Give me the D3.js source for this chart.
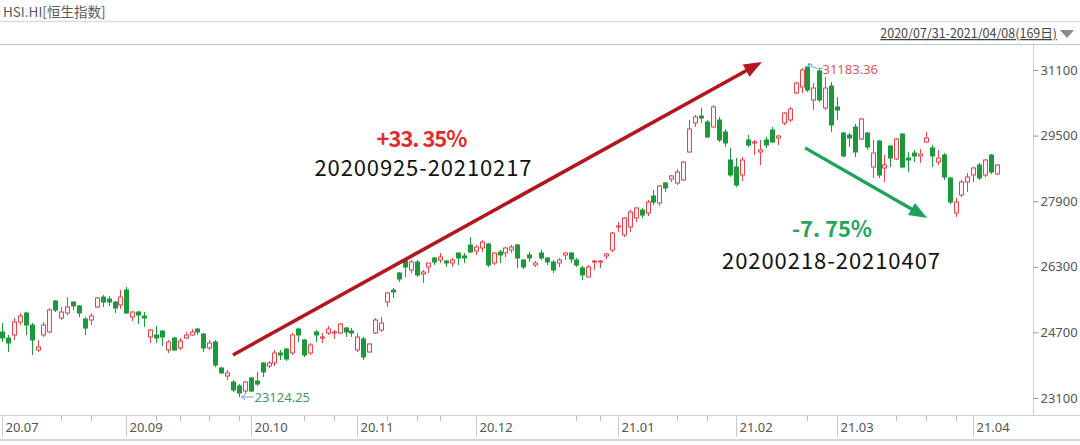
<!DOCTYPE html>
<html><head><meta charset="utf-8">
<script src="https://cdn.jsdelivr.net/npm/d3@7"></script>
<style>
body{margin:0;background:#fff;}
svg{display:block;font-family:"Noto Sans CJK SC","Noto Sans",sans-serif;}
</style>
</head><body>
<svg id="c" width="1080" height="445"></svg>
<script>
// ---------- DATA ----------
const dates = [
"2020-07-31",
"2020-08-03","2020-08-04","2020-08-05","2020-08-06","2020-08-07","2020-08-10","2020-08-11","2020-08-12","2020-08-13","2020-08-14",
"2020-08-17","2020-08-18","2020-08-19","2020-08-20","2020-08-21","2020-08-24","2020-08-25","2020-08-26","2020-08-27","2020-08-28","2020-08-31",
"2020-09-01","2020-09-02","2020-09-03","2020-09-04","2020-09-07","2020-09-08","2020-09-09","2020-09-10","2020-09-11","2020-09-14",
"2020-09-15","2020-09-16","2020-09-17","2020-09-18","2020-09-21","2020-09-22","2020-09-23","2020-09-24","2020-09-25","2020-09-28","2020-09-29","2020-09-30",
"2020-10-05","2020-10-06","2020-10-07","2020-10-08","2020-10-09","2020-10-12","2020-10-13","2020-10-14","2020-10-15","2020-10-16",
"2020-10-19","2020-10-20","2020-10-21","2020-10-22","2020-10-23","2020-10-27","2020-10-28","2020-10-29","2020-10-30",
"2020-11-02","2020-11-03","2020-11-04","2020-11-05","2020-11-06","2020-11-09","2020-11-10","2020-11-11","2020-11-12","2020-11-13",
"2020-11-16","2020-11-17","2020-11-18","2020-11-19","2020-11-20","2020-11-23","2020-11-24","2020-11-25","2020-11-26","2020-11-27","2020-11-30",
"2020-12-01","2020-12-02","2020-12-03","2020-12-04","2020-12-07","2020-12-08","2020-12-09","2020-12-10","2020-12-11","2020-12-14",
"2020-12-15","2020-12-16","2020-12-17","2020-12-18","2020-12-21","2020-12-22","2020-12-23","2020-12-24","2020-12-28","2020-12-29","2020-12-30","2020-12-31",
"2021-01-04","2021-01-05","2021-01-06","2021-01-07","2021-01-08","2021-01-11","2021-01-12","2021-01-13","2021-01-14","2021-01-15",
"2021-01-18","2021-01-19","2021-01-20","2021-01-21","2021-01-22","2021-01-25","2021-01-26","2021-01-27","2021-01-28","2021-01-29",
"2021-02-01","2021-02-02","2021-02-03","2021-02-04","2021-02-05","2021-02-08","2021-02-09","2021-02-10","2021-02-11","2021-02-16",
"2021-02-17","2021-02-18","2021-02-19","2021-02-22","2021-02-23","2021-02-24","2021-02-25","2021-02-26",
"2021-03-01","2021-03-02","2021-03-03","2021-03-04","2021-03-05","2021-03-08","2021-03-09","2021-03-10","2021-03-11","2021-03-12",
"2021-03-15","2021-03-16","2021-03-17","2021-03-18","2021-03-19","2021-03-22","2021-03-23","2021-03-24","2021-03-25","2021-03-26",
"2021-03-29","2021-03-30","2021-03-31",
"2021-04-01","2021-04-07"
];

const openVals = [
24710,24564,24637,24953,25173,24880,24271,24637,24710,25466,
25051,25173,25441,25344,25027,25002,25319,25563,25514,25441,
25368,25734,25075,25197,25100,24588,24637,24734,24271,24564,
24320,24564,24637,24783,24661,24320,24466,23832,23637,23490,
23393,23270,23588,23514,23954,23880,23954,24198,24295,24198,
24783,24515,24198,24710,24564,24685,24685,24685,24807,24734,
24271,24539,24222,24685,24759,25441,25734,26149,26441,26222,
26417,26124,26295,26515,26466,26441,26393,26637,26564,26832,
26685,26759,26856,26393,26661,26637,26710,26832,26466,26588,
26344,26637,26515,26417,26393,26588,26637,26466,26271,26051,
26417,26417,26564,26710,27271,27076,27271,27490,27685,27612,
28027,27856,28344,28441,28344,28417,29100,29807,29978,29832,
29710,29880,29588,28905,28734,28539,29393,29320,29100,29393,
29637,29441,29807,29880,30539,30685,31173,30368,31076,30173,
30710,30198,29563,29514,29710,29417,29563,28734,29368,28710,
29246,28929,29539,28954,29075,29002,29344,29198,28856,29027,
28466,27612,28051,28368,28539,28783,28539,29027,28563
];
const highVals = [
24929,24637,25051,25173,25197,24929,24515,24953,25295,25490,
25319,25563,25460,25368,25075,25173,25563,25612,25588,25460,
25734,25807,25222,25222,25197,24780,24856,24759,24515,24588,
24564,24710,24783,24800,24685,24515,24515,23856,23783,23539,
23441,23514,23612,23734,23978,24003,24271,24271,24320,24685,
24807,24539,24441,24759,24685,24856,24759,24929,24832,24807,
24685,24588,24441,25051,25075,25685,25783,26173,26466,26466,
26466,26222,26393,26539,26637,26466,26515,26637,26637,27027,
26832,26954,26880,26661,26710,26783,26832,26856,26490,26661,
26441,26710,26539,26466,26515,26661,26660,26515,26320,26344,
26466,26466,26637,27149,27393,27515,27685,27759,27734,27929,
28173,28295,28368,28539,28685,28880,29880,30003,30173,29880,
30246,29954,29661,29198,28954,28978,29514,29393,29393,29466,
29710,29514,30076,30198,30807,31149,31183.36,30783,31124,30929,
30807,30442,29588,29563,29783,29929,29588,29393,29393,29027,
29270,29441,29563,29100,29149,29173,29588,29270,29149,29075,
28490,27978,28417,28588,28734,28832,28929,29051,28807
];
const lowVals = [
24466,24222,24515,24880,24637,24149,24222,24588,24685,25197,
25002,25124,25246,25075,24637,24880,25295,25319,25344,25173,
25270,25150,24978,24905,24832,24441,24441,24368,24198,24250,
24271,24539,24620,24637,24222,24271,23856,23685,23539,23246,
23124.25,23197,23246,23393,23612,23832,23880,24027,24003,24149,
24466,24100,24149,24466,24441,24637,24539,24661,24588,24588,
24222,24027,24198,24661,24710,25319,25539,25929,26051,26149,
26051,25905,26149,26344,26393,26295,26295,26344,26393,26637,
26588,26661,26295,26344,26393,26539,26637,26271,26246,26417,
26295,26466,26344,26149,26295,26466,26393,26295,25978,26040,
26222,26271,26490,26661,27149,27027,27149,27393,27490,27539,
27807,27783,28124,28368,28295,28393,29080,29710,29807,29441,
29690,29344,29222,28490,28246,28393,29222,29027,28783,29198,
29320,29270,29759,29832,30515,30539,30564,30124,30320,30124,
29588,29880,28978,29222,28978,29393,29149,28466,28466,28368,
28734,28905,28710,28612,28856,28832,29319,28734,28783,28417,
27832,27515,28003,28124,28368,28417,28490,28563,28539
];
const closeVals = [
24564,24442,24953,25100,24880,24515,24344,24880,25246,25246,
25197,25319,25344,25173,24807,25100,25539,25441,25441,25295,
25563,25173,25197,25124,25051,24759,24564,24588,24466,24271,
24490,24637,24710,24710,24320,24441,23905,23710,23710,23295,
23222,23490,23270,23441,23734,23954,24198,24149,24051,24637,
24637,24149,24393,24637,24588,24783,24710,24905,24710,24685,
24588,24100,24417,25002,24929,25661,25685,26003,26295,26417,
26100,26173,26393,26417,26539,26393,26466,26515,26515,26661,
26783,26905,26344,26637,26588,26759,26783,26515,26295,26515,
26393,26515,26417,26222,26466,26637,26490,26344,26100,26295,
26441,26441,26613,27124,27295,27490,27637,27734,27563,27880,
27880,28271,28222,28515,28612,28856,29661,29954,29929,29466,
30198,29393,29320,28539,28295,28905,29270,29344,29149,29270,
29344,29490,30051,30149,30783,31100,30612,30661,30368,30661,
29758,30124,29002,29441,29100,29905,29222,29075,28539,28783,
28954,29417,28734,28905,29002,29051,29441,29002,28954,28490,
27880,27880,28368,28490,28710,28466,28905,28612,28783
];

const yTickValues = [23100, 24700, 26300, 27900, 29500, 31100];
const xTickLabels = ["20.07","20.09","20.10","20.11","20.12","21.01","21.02","21.03","21.04"];
const xTickDates  = ["2020-07-31","2020-08-31","2020-09-29","2020-10-28","2020-11-25","2020-12-30","2021-01-28","2021-02-24","2021-03-29"];
const minorTickDates = ["2020-08-14","2020-08-21","2020-09-07","2020-09-11","2020-09-18","2020-09-25","2020-10-14","2020-10-21",
  "2020-11-04","2020-11-11","2020-11-17","2020-12-18","2020-12-24","2021-01-14","2021-01-21","2021-02-17","2021-03-10","2021-03-17","2021-03-24"];

const titleText = "HSI.HI[恒生指数]";
const rangeText = "2020/07/31-2021/04/08(169日)";
const minLabel = {date: "2020-09-25", value: 23124.25, text: "23124.25"};
const maxLabel = {date: "2021-02-17", value: 31183.36, text: "31183.36"};
// annotation arrows: [candle index, index value]
const riseArrow = [[39.0, 24150], [128.3, 31295]];
const fallArrow = [[135.6, 29200], [156.2, 27490]];
const riseText = ["+33. 35%", "20200925-20210217"];
const fallText = ["-7. 75%", "20200218-20210407"];

// ---------- CHART ----------
const svg = d3.select("#c");
const N = dates.length;
const x = d3.scalePoint().domain(dates).range([2, 997]);
const xi = d3.scaleLinear().domain([0, N - 1]).range([2, 997]);
const y = d3.scaleLinear().domain([23100, 31100]).range([398, 70]);

const UP = "#e8424c", DOWN = "#1b9a3c";

// header
svg.append("text").attr("x", 3).attr("y", 17).attr("font-size", 13.5).attr("fill", "#5a5a5a").text(titleText);
svg.append("line").attr("x1", 0).attr("x2", 1080).attr("y1", 21.5).attr("y2", 21.5).attr("stroke", "#dcdcdc").attr("stroke-width", 1.5);
svg.append("text").attr("x", 1057).attr("y", 38).attr("text-anchor", "end").attr("font-size", 12.5)
  .attr("fill", "#444").attr("text-decoration", "underline").text(rangeText);
svg.append("path").attr("d", "M1060,30 L1074,30 L1067,38 Z").attr("fill", "#8a8a8a");
svg.append("line").attr("x1", 0).attr("x2", 1080).attr("y1", 44.5).attr("y2", 44.5).attr("stroke", "#b8c6c6").attr("stroke-width", 1.2);

// right axis
svg.append("line").attr("x1", 1033.5).attr("x2", 1033.5).attr("y1", 45).attr("y2", 415).attr("stroke", "#cfcfcf");
const yAxis = svg.append("g").attr("transform", "translate(1033.5,0)")
  .call(d3.axisRight(y).tickValues(yTickValues).tickSize(5).tickPadding(2).tickFormat(d3.format("d")));
yAxis.select(".domain").remove();
yAxis.selectAll(".tick line").attr("stroke", "#999");
yAxis.selectAll(".tick text").attr("font-size", 13).attr("fill", "#555").attr("font-family", "'Noto Sans','Open Sans',sans-serif");

// bottom axis
svg.append("line").attr("x1", 0).attr("x2", 1080).attr("y1", 415.5).attr("y2", 415.5).attr("stroke", "#d0d0d0");
svg.append("line").attr("x1", 0).attr("x2", 1080).attr("y1", 440).attr("y2", 440).attr("stroke", "#d6d6d6").attr("stroke-width", 2);
const px = d => Math.round(x(d)) + 0.5;
svg.append("g").selectAll("line").data(minorTickDates).join("line")
  .attr("x1", px).attr("x2", px).attr("y1", 416).attr("y2", 421).attr("stroke", "#bbb");
const xt = svg.append("g").selectAll("g").data(xTickDates).join("g")
  .attr("transform", d => `translate(${px(d)},0)`);
xt.append("line").attr("y1", 416).attr("y2", 437).attr("stroke", "#c8c8c8");
xt.append("text").attr("x", 3).attr("y", 432).attr("font-size", 13).attr("fill", "#555")
  .attr("font-family", "'Noto Sans','Open Sans',sans-serif")
  .text((d, i) => xTickLabels[i]);

// candles
const candles = dates.map((d, i) => ({d, o: openVals[i], h: highVals[i], l: lowVals[i], c: closeVals[i]}));
const cg = svg.append("g").selectAll("g").data(candles).join("g");
cg.append("line")
  .attr("x1", c => px(c.d)).attr("x2", c => px(c.d))
  .attr("y1", c => y(c.h)).attr("y2", c => y(c.l))
  .attr("stroke", c => c.c >= c.o ? UP : DOWN).attr("stroke-width", 1);
cg.append("rect")
  .attr("x", c => Math.round(x(c.d)) - 1.5)
  .attr("width", 4)
  .attr("y", c => y(Math.max(c.o, c.c)))
  .attr("height", c => Math.max(1, Math.abs(y(c.o) - y(c.c))))
  .attr("fill", c => c.c >= c.o ? "#fff4f4" : DOWN)
  .attr("stroke", c => c.c >= c.o ? UP : DOWN).attr("stroke-width", 1);

// min / max labels
{
  const mx = px(minLabel.date), my = y(minLabel.value);
  svg.append("path").attr("d", `M${mx + 14},${my} L${mx + 2},${my} M${mx + 6},${my - 3} L${mx + 2},${my} L${mx + 6},${my + 3}`)
    .attr("stroke", "#6b9fd0").attr("fill", "none").attr("stroke-width", 1);
  svg.append("text").attr("x", mx + 15).attr("y", my + 5).attr("font-size", 13).attr("fill", "#3f9a5f")
    .attr("font-family", "'Noto Sans','Open Sans',sans-serif").text(minLabel.text);
  const hx = px(maxLabel.date), hy = y(maxLabel.value);
  svg.append("path").attr("d", `M${hx + 1},${hy - 3} Q${hx + 4},${hy + 2} ${hx + 15},${hy + 2} M${hx + 1},${hy - 3} L${hx + 1},${hy + 1} M${hx + 1},${hy - 3} L${hx + 5},${hy - 2}`)
    .attr("stroke", "#6b9fd0").attr("fill", "none").attr("stroke-width", 1);
  svg.append("text").attr("x", hx + 15).attr("y", hy + 7).attr("font-size", 13).attr("fill", "#d9585c")
    .attr("font-family", "'Noto Sans','Open Sans',sans-serif").text(maxLabel.text);
}

// arrows
function arrow(pts, color, w, L, hw) {
  const [x0, y0] = [xi(pts[0][0]), y(pts[0][1])];
  const [x1, y1] = [xi(pts[1][0]), y(pts[1][1])];
  const dx = x1 - x0, dy = y1 - y0, len = Math.hypot(dx, dy);
  const ux = dx / len, uy = dy / len, nx = -uy, ny = ux;
  const bx = x1 - ux * L, by = y1 - uy * L;
  svg.append("line").attr("x1", x0).attr("y1", y0).attr("x2", bx + ux * 2).attr("y2", by + uy * 2)
    .attr("stroke", color).attr("stroke-width", w);
  svg.append("path").attr("d", `M${x1},${y1} L${bx + nx * hw / 2},${by + ny * hw / 2} L${bx - nx * hw / 2},${by - ny * hw / 2} Z`)
    .attr("fill", color);
}
arrow(riseArrow, "#b3161c", 3.6, 18, 14);
arrow(fallArrow, "#1fa35a", 3.4, 18, 14);

// annotation texts
svg.append("text").attr("x", 422).attr("y", 147).attr("text-anchor", "middle").attr("font-size", 22)
  .attr("font-weight", 700).attr("fill", "#e42a2e").attr("textLength", 91).text(riseText[0]);
svg.append("text").attr("x", 423).attr("y", 176).attr("text-anchor", "middle").attr("font-size", 22)
  .attr("fill", "#111").attr("textLength", 217).text(riseText[1]);
svg.append("text").attr("x", 832).attr("y", 237).attr("text-anchor", "middle").attr("font-size", 22)
  .attr("font-weight", 700).attr("fill", "#22a65c").attr("textLength", 80).text(fallText[0]);
svg.append("text").attr("x", 831).attr("y", 269).attr("text-anchor", "middle").attr("font-size", 22)
  .attr("fill", "#111").attr("textLength", 218).text(fallText[1]);
</script>
</body></html>
